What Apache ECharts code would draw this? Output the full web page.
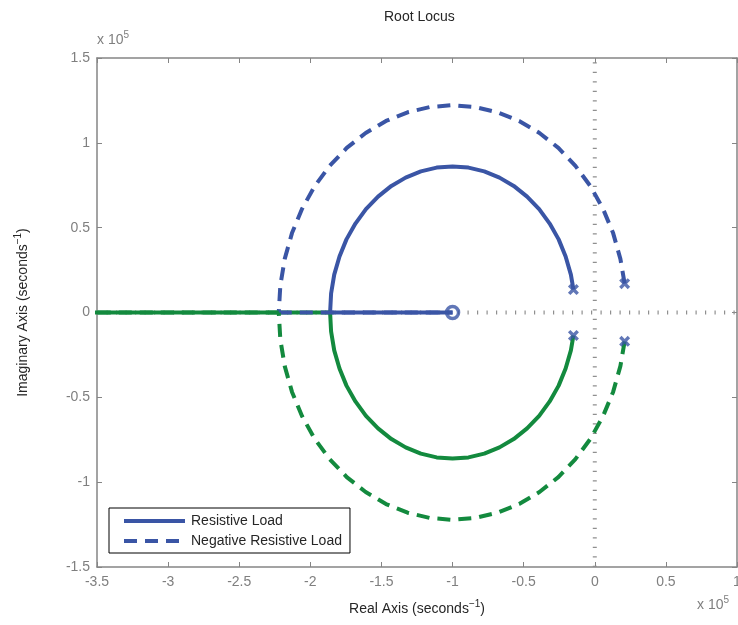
<!DOCTYPE html>
<html>
<head>
<meta charset="utf-8">
<style>
  html, body { margin: 0; padding: 0; background: #fff; }
  #chart { width: 738px; height: 625px; }
</style>
<script src="https://cdn.jsdelivr.net/npm/echarts@6/dist/echarts.min.js"></script>
</head>
<body>
<div id="chart"></div>
<script>
// Axis ranges and ticks (values in units of 1e5)
const xTicks = [-3.5, -3, -2.5, -2, -1.5, -1, -0.5, 0, 0.5, 1];
const yTicks = [-1.5, -1, -0.5, 0, 0.5, 1, 1.5];

// Resistive load: upper branch from the complex pole round to the break-in point
const resistiveUpper = [[-0.15, 0.135], [-0.168, 0.223], [-0.205, 0.33], [-0.254, 0.431], [-0.317, 0.524],
  [-0.391, 0.609], [-0.476, 0.683], [-0.57, 0.746], [-0.67, 0.795], [-0.777, 0.832], [-0.888, 0.854],
  [-1.0, 0.861], [-1.112, 0.854], [-1.223, 0.832], [-1.33, 0.795], [-1.43, 0.746], [-1.524, 0.683],
  [-1.609, 0.609], [-1.683, 0.524], [-1.746, 0.431], [-1.795, 0.33], [-1.832, 0.223], [-1.854, 0.112],
  [-1.861, 0]];
// lower branch (mirror image)
const resistiveLower = [[-0.15, -0.135], [-0.168, -0.223], [-0.205, -0.33], [-0.254, -0.431], [-0.317, -0.524],
  [-0.391, -0.609], [-0.476, -0.683], [-0.57, -0.746], [-0.67, -0.795], [-0.777, -0.832], [-0.888, -0.854],
  [-1.0, -0.861], [-1.112, -0.854], [-1.223, -0.832], [-1.33, -0.795], [-1.43, -0.746], [-1.524, -0.683],
  [-1.609, -0.609], [-1.683, -0.524], [-1.746, -0.431], [-1.795, -0.33], [-1.832, -0.223], [-1.854, -0.112],
  [-1.861, 0]];
const resistiveToZero = [[-1.861, 0], [-1.0, 0]];
const resistiveToLeft = [[-1.861, 0], [-3.6, 0]];

// Negative resistive load
const negativeUpper = [[0.21, 0.17], [0.18, 0.316], [0.129, 0.468], [0.058, 0.611], [-0.03, 0.744],
  [-0.136, 0.864], [-0.256, 0.97], [-0.389, 1.058], [-0.532, 1.129], [-0.684, 1.18], [-0.841, 1.211],
  [-1.0, 1.222], [-1.159, 1.211], [-1.316, 1.18], [-1.468, 1.129], [-1.611, 1.058], [-1.744, 0.97],
  [-1.864, 0.864], [-1.97, 0.744], [-2.058, 0.611], [-2.129, 0.468], [-2.18, 0.316], [-2.211, 0.159],
  [-2.222, 0]];
const negativeLower = [[0.21, -0.17], [0.18, -0.316], [0.129, -0.468], [0.058, -0.611], [-0.03, -0.744],
  [-0.136, -0.864], [-0.256, -0.97], [-0.389, -1.058], [-0.532, -1.129], [-0.684, -1.18], [-0.841, -1.211],
  [-1.0, -1.222], [-1.159, -1.211], [-1.316, -1.18], [-1.468, -1.129], [-1.611, -1.058], [-1.744, -0.97],
  [-1.864, -0.864], [-1.97, -0.744], [-2.058, -0.611], [-2.129, -0.468], [-2.18, -0.316], [-2.211, -0.159],
  [-2.222, 0]];
const negativeToZero = [[-2.222, 0], [-1.0, 0]];
const negativeToLeft = [[-2.222, 0], [-3.6, 0]];

// Open-loop poles and zero
const poles = [[-0.15, 0.135], [-0.15, -0.135], [0.21, 0.17], [0.21, -0.17]];
const zeros = [[-1.0, 0]];

// Dotted reference lines through the origin
const realAxisLine = [[-3.5, 0], [1, 0]];
const imagAxisLine = [[0, -1.5], [0, 1.5]];

const BLUE = '#3a55a5';
const GREEN = '#138a3e';
const LW = 4;
const DASH = [13, 8];
const crossPath = 'path://M2.2,0 L5,2.8 L7.8,0 L10,2.2 L7.2,5 L10,7.8 L7.8,10 L5,7.2 L2.2,10 L0,7.8 L2.8,5 L0,2.2 Z';

const fontFam = '"Liberation Sans", Arial, Helvetica, sans-serif';

function curve(name, data, color, type) {
  return {
    name: name, type: 'line', data: data, symbol: 'none', smooth: false,
    lineStyle: { color: color, width: LW, type: type, cap: 'butt', join: 'round' },
    itemStyle: { color: color },
    emphasis: { disabled: true }, silent: true, animation: false, z: 3
  };
}
function guide(data) {
  return {
    type: 'line', data: data, symbol: 'none', silent: true, animation: false, z: 2,
    lineStyle: { color: '#8f8f8f', width: 4, type: [1.2, 8.3], cap: 'butt' }
  };
}

const axisCommon = {
  type: 'value', interval: 0.5,
  axisLine: { show: true, onZero: false, lineStyle: { color: '#858585', width: 1.5 } },
  axisTick: { show: true, inside: true, length: 5, lineStyle: { color: '#858585', width: 1 } },
  splitLine: { show: false }
};

const chart = echarts.init(document.getElementById('chart'), null, { renderer: 'canvas' });
chart.setOption({
  animation: false,
  backgroundColor: '#fff',
  textStyle: { fontFamily: fontFam },
  grid: { left: 97, top: 58, width: 640, height: 509, outerBoundsMode: 'none', containLabel: false },
  xAxis: [
    Object.assign({}, axisCommon, {
      min: xTicks[0], max: xTicks[xTicks.length - 1], position: 'bottom',
      axisLabel: { color: '#7f7f7f', fontSize: 14, margin: 8, fontFamily: fontFam },
      name: '{t|Real Axis (seconds}{s|−1}{t|)}', nameLocation: 'middle', nameGap: 32,
      nameTextStyle: {
        rich: {
          t: { fontSize: 14, color: '#262626', fontFamily: fontFam },
          s: { fontSize: 10, color: '#262626', fontFamily: fontFam, padding: [0, 0, 11, 0] }
        }
      }
    }),
    Object.assign({}, axisCommon, {
      min: xTicks[0], max: xTicks[xTicks.length - 1], position: 'top',
      axisLabel: { show: false }
    })
  ],
  yAxis: [
    Object.assign({}, axisCommon, {
      min: yTicks[0], max: yTicks[yTicks.length - 1], position: 'left',
      axisLabel: { color: '#7f7f7f', fontSize: 14, margin: 7, fontFamily: fontFam },
      name: '{t|Imaginary Axis (seconds}{s|−1}{t|)}', nameLocation: 'middle', nameGap: 63,
      nameTextStyle: {
        rich: {
          t: { fontSize: 14, color: '#262626', fontFamily: fontFam },
          s: { fontSize: 10, color: '#262626', fontFamily: fontFam, padding: [0, 0, 11, 0] }
        }
      }
    }),
    Object.assign({}, axisCommon, {
      min: yTicks[0], max: yTicks[yTicks.length - 1], position: 'right',
      axisLabel: { show: false }
    })
  ],
  legend: {
    data: ['Resistive Load', 'Negative Resistive Load'],
    orient: 'vertical', left: 109, top: 508,
    padding: [6, 8, 5, 13], itemGap: 6, itemWidth: 61, itemHeight: 16,
    borderColor: '#000', borderWidth: 1, backgroundColor: '#fff',
    itemStyle: { opacity: 0 },
    lineStyle: { width: 4, cap: 'butt' },
    textStyle: { fontSize: 14, color: '#262626', fontFamily: fontFam, padding: [0, 0, 0, 1] },
    selectedMode: false
  },
  graphic: [
    { type: 'text', left: 384, top: 10, silent: true,
      style: { text: 'Root Locus', fontSize: 14, fill: '#262626', fontFamily: fontFam } },
    { type: 'text', left: 97, top: 30, silent: true,
      style: { text: '{b|x 10}{s|5}', rich: {
        b: { fontSize: 14, fill: '#7f7f7f', color: '#7f7f7f', fontFamily: fontFam },
        s: { fontSize: 10, fill: '#7f7f7f', color: '#7f7f7f', fontFamily: fontFam, padding: [0, 0, 10, 0] } } } },
    { type: 'text', left: 697, top: 595, silent: true,
      style: { text: '{b|x 10}{s|5}', rich: {
        b: { fontSize: 14, fill: '#7f7f7f', color: '#7f7f7f', fontFamily: fontFam },
        s: { fontSize: 10, fill: '#7f7f7f', color: '#7f7f7f', fontFamily: fontFam, padding: [0, 0, 10, 0] } } } }
  ],
  series: [
    guide(realAxisLine),
    guide(imagAxisLine),
    curve('Resistive Load', resistiveUpper, BLUE, 'solid'),
    curve('resistive-to-zero', resistiveToZero, BLUE, 'solid'),
    curve('resistive-lower', resistiveLower, GREEN, 'solid'),
    curve('resistive-to-left', resistiveToLeft, GREEN, 'solid'),
    curve('Negative Resistive Load', negativeUpper, BLUE, DASH),
    curve('negative-to-zero', negativeToZero, BLUE, DASH),
    curve('negative-lower', negativeLower, GREEN, DASH),
    curve('negative-to-left', negativeToLeft, GREEN, DASH),
    {
      name: 'poles', type: 'scatter', data: poles, symbol: crossPath, symbolSize: 11,
      itemStyle: { color: BLUE }, silent: true, animation: false, z: 5
    },
    {
      name: 'zeros', type: 'scatter', data: zeros, symbol: 'circle', symbolSize: 12,
      itemStyle: { color: 'rgba(0,0,0,0)', borderColor: BLUE, borderWidth: 3.5 },
      silent: true, animation: false, z: 5
    }
  ]
});
</script>
</body>
</html>
